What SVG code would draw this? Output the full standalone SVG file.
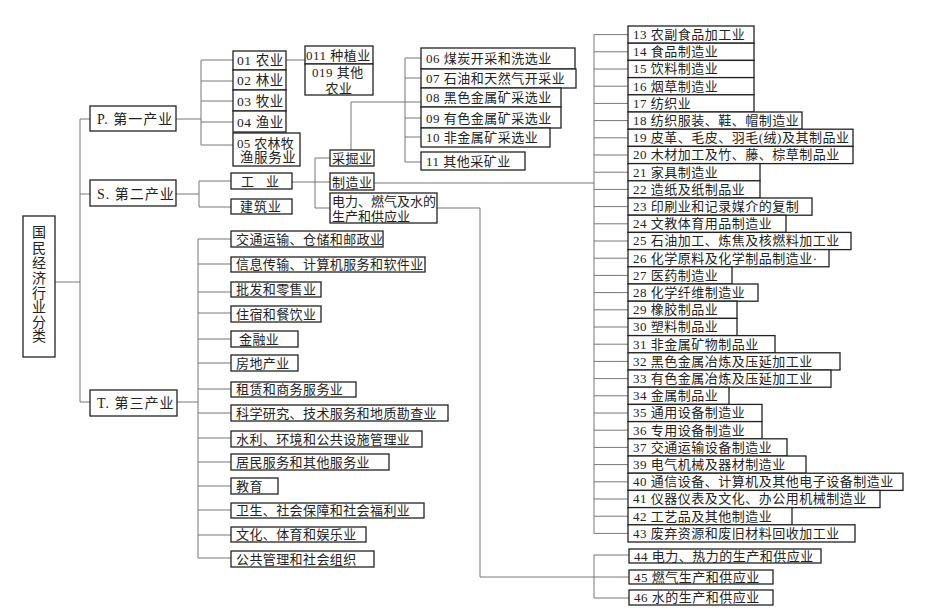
<svg xmlns="http://www.w3.org/2000/svg" width="946" height="614" viewBox="0 0 946 614">
<style>
.b{fill:#fff;stroke:#222;stroke-width:1.3}
.l{fill:none;stroke:#777;stroke-width:1}
text{font-family:"Liberation Serif","Noto Sans CJK SC",serif;font-size:13px;fill:#222;letter-spacing:0.5px}
.t14{font-size:14px;letter-spacing:1px}
.tp{font-size:13.5px;letter-spacing:0.6px}
.tl{letter-spacing:0.4px}
</style>
<rect width="946" height="614" fill="#fff"/>
<g id="connectors" class="l">
<path d="M55 282H80M80 119V402M80 119H90M80 194H90M80 402H90"/>
<path d="M176 119H201M201 60V145M201 60H233M201 81H233M201 101H233M201 122H233M201 145H233M286 60H305"/>
<path d="M176 194H199M199 181V207M199 181H231M199 207H231"/>
<path d="M292 182H330M315 158V208M315 158H330M315 208H330"/>
<path d="M351 150V102H421M405 58V162M405 58H421M405 78H421M405 118H421M405 137H421M405 162H421"/>
<path d="M374 183H594M594 34.6V533.4"/>
<path d="M594 34.6H628M594 51.8H628M594 69H628M594 86.2H628M594 103.4H628M594 120.6H628M594 137.8H628M594 155H628M594 172.2H628M594 189.4H628M594 206.6H628M594 223.8H628M594 241H628M594 258.2H628M594 275.4H628M594 292.6H628M594 309.8H628M594 327H628M594 344.2H628M594 361.4H628M594 378.6H628M594 395.8H628M594 413H628M594 430.2H628M594 447.4H628M594 464.6H628M594 481.8H628M594 499H628M594 516.2H628M594 533.4H628"/>
<path d="M437 208H480V577H594M594 555V598M594 555H629M594 577H629M594 598H629"/>
<path d="M177 402H198M198 239V558M198 239H231M198 264H231M198 292H231M198 313H231M198 339H231M198 363H231M198 389H231M198 413H231M198 438H231M198 462H231M198 486H231M198 510H231M198 535H231M198 558H231"/>
</g>
<g id="root"><rect class="b" x="23" y="216" width="32" height="141"/>
<text class="t14" text-anchor="middle" style="letter-spacing:0"><tspan x="39" y="237">国</tspan><tspan x="39" y="253">民</tspan><tspan x="39" y="268">经</tspan><tspan x="39" y="283">济</tspan><tspan x="39" y="298">行</tspan><tspan x="39" y="312">业</tspan><tspan x="39" y="327">分</tspan><tspan x="39" y="341">类</tspan></text></g>
<g id="P"><rect class="b" x="90" y="106" width="86" height="25"/><text class="t14" x="97" y="124">P. 第一产业</text></g>
<g id="S"><rect class="b" x="90" y="180" width="86" height="26"/><text class="t14" x="97" y="199">S. 第二产业</text></g>
<g id="T"><rect class="b" x="90" y="390" width="87" height="26"/><text class="t14" x="97" y="408">T. 第三产业</text></g>
<g id="n01"><rect class="b" x="233" y="51" width="53" height="19"/><text class="tp" x="237" y="65">01 农业</text></g>
<g id="n02"><rect class="b" x="233" y="70" width="53" height="20"/><text class="tp" x="237" y="85">02 林业</text></g>
<g id="n03"><rect class="b" x="233" y="90" width="53" height="21"/><text class="tp" x="237" y="106">03 牧业</text></g>
<g id="n04"><rect class="b" x="233" y="111" width="53" height="21"/><text class="tp" x="237" y="127">04 渔业</text></g>
<g id="n05"><rect class="b" x="233" y="133" width="67" height="33"/><text x="237" y="148" style="letter-spacing:0.3px">05 农林牧</text><text class="tp" x="240" y="162">渔服务业</text></g>
<g id="n011"><rect class="b" x="305" y="46" width="68" height="18"/><text x="306" y="60">011 种植业</text></g>
<g id="n019"><rect class="b" x="305" y="64" width="68" height="31"/><text x="312" y="77">019 其他</text><text x="339" y="93" text-anchor="middle">农业</text></g>
<g id="gongye"><rect class="b" x="231" y="173" width="61" height="16"/><text x="241" y="186" style="letter-spacing:12px">工业</text></g>
<g id="jianzhu"><rect class="b" x="231" y="199" width="61" height="15"/><text x="240" y="211" style="letter-spacing:1px">建筑业</text></g>
<g id="caijue"><rect class="b" x="330" y="150" width="44" height="16"/><text x="332" y="163">采掘业</text></g>
<g id="zhizao"><rect class="b" x="330" y="173" width="44" height="17"/><text x="332" y="187">制造业</text></g>
<g id="dianli"><rect class="b" x="330" y="193" width="107" height="30"/><text x="332" y="206" style="letter-spacing:0">电力、燃气及水的</text><text x="332" y="221" style="letter-spacing:0">生产和供应业</text></g>
<g id="n06"><rect class="b" x="421" y="48" width="154" height="21"/><text x="426" y="63">06 煤炭开采和洗选业</text></g>
<g id="n07"><rect class="b" x="421" y="69" width="155" height="19"/><text x="426" y="83">07 石油和天然气开采业</text></g>
<g id="n08"><rect class="b" x="421" y="88" width="140" height="19"/><text x="426" y="102">08 黑色金属矿采选业</text></g>
<g id="n09"><rect class="b" x="421" y="107" width="140" height="21"/><text x="426" y="123">09 有色金属矿采选业</text></g>
<g id="n10"><rect class="b" x="421" y="128" width="129" height="19"/><text x="426" y="142">10 非金属矿采选业</text></g>
<g id="n11"><rect class="b" x="421" y="152" width="104" height="18"/><text x="426" y="166">11 其他采矿业</text></g>
<g id="n13"><rect class="b" x="628" y="26" width="126" height="17.2"/><text x="633" y="39">13 农副食品加工业</text></g>
<g id="n14"><rect class="b" x="628" y="43.2" width="126" height="17.2"/><text x="633" y="56.2">14 食品制造业</text></g>
<g id="n15"><rect class="b" x="628" y="60.4" width="126" height="17.2"/><text x="633" y="73.4">15 饮料制造业</text></g>
<g id="n16"><rect class="b" x="628" y="77.6" width="126" height="17.2"/><text x="633" y="90.6">16 烟草制造业</text></g>
<g id="n17"><rect class="b" x="628" y="94.8" width="126" height="17.2"/><text x="633" y="107.8">17 纺织业</text></g>
<g id="n18"><rect class="b" x="628" y="112" width="174" height="17.2"/><text x="633" y="125">18 纺织服装、鞋、帽制造业</text></g>
<g id="n19"><rect class="b" x="628" y="129.2" width="225" height="17.2"/><text x="633" y="142.2">19 皮革、毛皮、羽毛(绒)及其制品业</text></g>
<g id="n20"><rect class="b" x="628" y="146.4" width="225" height="17.2"/><text x="633" y="159.4">20 木材加工及竹、藤、棕草制品业</text></g>
<g id="n21"><rect class="b" x="628" y="163.6" width="132" height="17.2"/><text x="633" y="176.6">21 家具制造业</text></g>
<g id="n22"><rect class="b" x="628" y="180.8" width="132" height="17.2"/><text x="633" y="193.8">22 造纸及纸制品业</text></g>
<g id="n23"><rect class="b" x="628" y="198" width="184" height="17.2"/><text x="633" y="211">23 印刷业和记录媒介的复制</text></g>
<g id="n24"><rect class="b" x="628" y="215.2" width="158" height="17.2"/><text x="633" y="228.2">24 文教体育用品制造业</text></g>
<g id="n25"><rect class="b" x="628" y="232.4" width="223" height="17.2"/><text x="633" y="245.4">25 石油加工、炼焦及核燃料加工业</text></g>
<g id="n26"><rect class="b" x="628" y="249.6" width="201" height="17.2"/><text x="633" y="262.6">26 化学原料及化学制品制造业·</text></g>
<g id="n27"><rect class="b" x="628" y="266.8" width="104" height="17.2"/><text x="633" y="279.8">27 医药制造业</text></g>
<g id="n28"><rect class="b" x="628" y="284" width="130" height="17.2"/><text x="633" y="297">28 化学纤维制造业</text></g>
<g id="n29"><rect class="b" x="628" y="301.2" width="109" height="17.2"/><text x="633" y="314.2">29 橡胶制品业</text></g>
<g id="n30"><rect class="b" x="628" y="318.4" width="109" height="17.2"/><text x="633" y="331.4">30 塑料制品业</text></g>
<g id="n31"><rect class="b" x="628" y="335.6" width="147" height="17.2"/><text x="633" y="348.6">31 非金属矿物制品业</text></g>
<g id="n32"><rect class="b" x="628" y="352.8" width="212" height="17.2"/><text x="633" y="365.8">32 黑色金属冶炼及压延加工业</text></g>
<g id="n33"><rect class="b" x="628" y="370" width="203" height="17.2"/><text x="633" y="383">33 有色金属冶炼及压延加工业</text></g>
<g id="n34"><rect class="b" x="628" y="387.2" width="101" height="17.2"/><text x="633" y="400.2">34 金属制品业</text></g>
<g id="n35"><rect class="b" x="628" y="404.4" width="134" height="17.2"/><text x="633" y="417.4">35 通用设备制造业</text></g>
<g id="n36"><rect class="b" x="628" y="421.6" width="134" height="17.2"/><text x="633" y="434.6">36 专用设备制造业</text></g>
<g id="n37"><rect class="b" x="628" y="438.8" width="159" height="17.2"/><text x="633" y="451.8">37 交通运输设备制造业</text></g>
<g id="n39"><rect class="b" x="628" y="456" width="178" height="17.2"/><text x="633" y="469">39 电气机械及器材制造业</text></g>
<g id="n40"><rect class="b" x="628" y="473.2" width="275" height="17.2"/><text x="633" y="486.2">40 通信设备、计算机及其他电子设备制造业</text></g>
<g id="n41"><rect class="b" x="628" y="490.4" width="252" height="17.2"/><text x="633" y="503.4">41 仪器仪表及文化、办公用机械制造业</text></g>
<g id="n42"><rect class="b" x="628" y="507.6" width="164" height="17.2"/><text x="633" y="520.6">42 工艺品及其他制造业</text></g>
<g id="n43"><rect class="b" x="628" y="524.8" width="227" height="17.2"/><text x="633" y="537.8">43 废弃资源和废旧材料回收加工业</text></g>
<g id="n44"><rect class="b" x="629" y="549" width="192" height="14"/><text x="634" y="561">44 电力、热力的生产和供应业</text></g>
<g id="n45"><rect class="b" x="629" y="570" width="144" height="14"/><text x="634" y="582">45 燃气生产和供应业</text></g>
<g id="n46"><rect class="b" x="629" y="590" width="144" height="15"/><text x="634" y="602">46 水的生产和供应业</text></g>
<g id="t01"><rect class="b" x="231" y="231" width="152" height="16"/><text class="tl" x="236" y="244">交通运输、仓储和邮政业</text></g>
<g id="t02"><rect class="b" x="231" y="257" width="194" height="15"/><text class="tl" x="236" y="269">信息传输、计算机服务和软件业</text></g>
<g id="t03"><rect class="b" x="231" y="282" width="90" height="15"/><text class="tl" x="236" y="294">批发和零售业</text></g>
<g id="t04"><rect class="b" x="231" y="306" width="90" height="16"/><text class="tl" x="236" y="319">住宿和餐饮业</text></g>
<g id="t05"><rect class="b" x="231" y="331" width="67" height="16"/><text class="tl" x="239" y="344">金融业</text></g>
<g id="t06"><rect class="b" x="231" y="355" width="67" height="16"/><text class="tl" x="236" y="368">房地产业</text></g>
<g id="t07"><rect class="b" x="231" y="382" width="125" height="15"/><text class="tl" x="236" y="394">租赁和商务服务业</text></g>
<g id="t08"><rect class="b" x="231" y="405" width="217" height="16"/><text class="tl" x="236" y="418">科学研究、技术服务和地质勘查业</text></g>
<g id="t09"><rect class="b" x="231" y="431" width="191" height="16"/><text class="tl" x="236" y="444">水利、环境和公共设施管理业</text></g>
<g id="t10"><rect class="b" x="231" y="454" width="158" height="16"/><text class="tl" x="236" y="467">居民服务和其他服务业</text></g>
<g id="t11"><rect class="b" x="231" y="478" width="47" height="16"/><text class="tl" x="236" y="491">教育</text></g>
<g id="t12"><rect class="b" x="231" y="503" width="193" height="15"/><text class="tl" x="236" y="515">卫生、社会保障和社会福利业</text></g>
<g id="t13"><rect class="b" x="231" y="527" width="135" height="15"/><text class="tl" x="236" y="539">文化、体育和娱乐业</text></g>
<g id="t14"><rect class="b" x="231" y="551" width="143" height="16"/><text class="tl" x="236" y="564">公共管理和社会组织</text></g>
</svg>
